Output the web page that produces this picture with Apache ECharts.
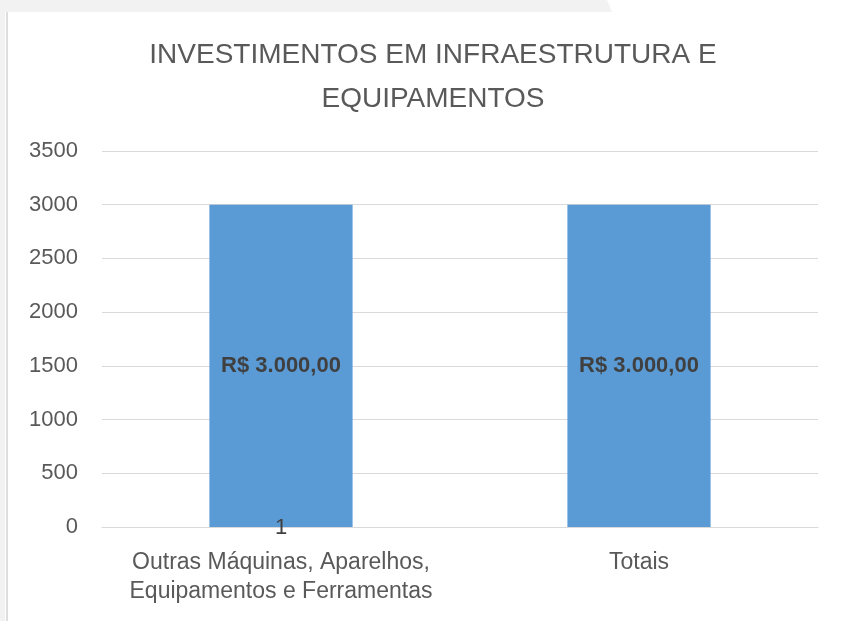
<!DOCTYPE html>
<html>
<head>
<meta charset="utf-8">
<script src="https://cdn.jsdelivr.net/npm/echarts@6/dist/echarts.min.js"></script>
<style>
  html, body { margin: 0; padding: 0; background: #ffffff; }
  #chart { width: 842px; height: 621px; }
</style>
</head>
<body>
<div id="chart"></div>
<script>
// Chart data
const titleLines = ['INVESTIMENTOS EM INFRAESTRUTURA E', 'EQUIPAMENTOS'];
const categories = ['Outras Máquinas, Aparelhos,\nEquipamentos e Ferramentas', 'Totais'];
const groupLabels = ['1', ''];
const values = [3000, 3000];
const valueLabels = ['R$ 3.000,00', 'R$ 3.000,00'];
const yTicks = [0, 500, 1000, 1500, 2000, 2500, 3000, 3500];

const textColor = '#595959';
const font = "'Liberation Sans', Arial, sans-serif";

const chart = echarts.init(document.getElementById('chart'), null, { renderer: 'canvas' });

chart.setOption({
  backgroundColor: '#ffffff',
  animation: false,
  graphic: [
    // pale frame at the top and left edge
    { type: 'polygon', shape: { points: [[0, 0], [607, 0], [612, 12], [0, 12]] },
      style: { fill: '#f2f2f2' }, z: -10 },
    { type: 'rect', shape: { x: 0, y: 12, width: 5, height: 609 },
      style: { fill: '#f2f2f2' }, z: -10 },
    { type: 'rect', shape: { x: 6, y: 12, width: 2, height: 609 },
      style: { fill: '#dedede' }, z: -10 }
  ],
  title: {
    text: titleLines.join('\n'),
    left: 428,
    top: 28,
    textAlign: 'center',
    textStyle: {
      fontFamily: font,
      fontWeight: 'normal',
      fontSize: 28,
      lineHeight: 44,
      color: textColor
    }
  },
  grid: { left: 102, right: 24, top: 151, bottom: 94, containLabel: false },
  xAxis: {
    type: 'category',
    z: 5,
    data: categories,
    axisLine: { show: true, lineStyle: { color: '#d9d9d9', width: 1 } },
    axisTick: { show: false },
    axisLabel: {
      interval: 0,
      margin: -19,
      color: textColor,
      fontFamily: font,
      fontSize: 23,
      formatter: function (value, idx) {
        const g = groupLabels[idx] || ' ';
        return '{g|' + g + '}\n{c|' + value.split('\n').join('}\n{c|') + '}';
      },
      rich: {
        g: { fontFamily: font, fontSize: 22, color: '#404040', lineHeight: 40 },
        c: { fontFamily: font, fontSize: 23, color: textColor, lineHeight: 29 }
      }
    }
  },
  yAxis: {
    type: 'value',
    min: 0,
    max: 3500,
    interval: 500,
    axisLine: { show: false },
    axisTick: { show: false },
    splitLine: { lineStyle: { color: '#d9d9d9', width: 1 } },
    axisLabel: {
      margin: 24,
      color: textColor,
      fontFamily: font,
      fontSize: 22,
      formatter: v => (yTicks.includes(v) ? String(v) : '')
    }
  },
  series: [{
    type: 'bar',
    data: values,
    barWidth: '40%',
    itemStyle: { color: '#5b9bd5' },
    label: {
      show: true,
      position: 'inside',
      formatter: p => valueLabels[p.dataIndex],
      fontFamily: font,
      fontWeight: 'bold',
      fontSize: 22,
      color: '#404040'
    }
  }]
});
</script>
</body>
</html>
